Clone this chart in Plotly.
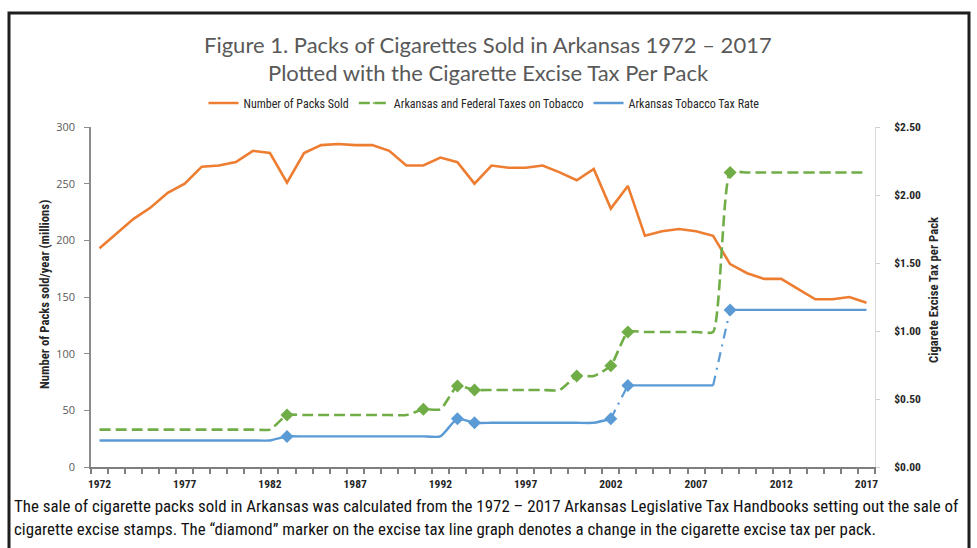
import plotly.graph_objects as go

# ---------------- data ----------------
years = [1972, 1973, 1974, 1975, 1976, 1977, 1978, 1979, 1980, 1981,
         1982, 1983, 1984, 1985, 1986, 1987, 1988, 1989, 1990, 1991,
         1992, 1993, 1994, 1995, 1996, 1997, 1998, 1999, 2000, 2001,
         2002, 2003, 2004, 2005, 2006, 2007, 2008, 2009, 2010, 2011,
         2012, 2013, 2014, 2015, 2016, 2017]

packs_sold = [193, 206, 219, 229, 242, 250, 265, 266, 269, 279,
              277, 251, 277, 284, 285, 284, 284, 279, 266, 266,
              273, 269, 250, 266, 264, 264, 266, 260, 253, 263,
              228, 248, 204, 208, 210, 208, 204, 179, 171, 166,
              166, 157, 148, 148, 150, 145]

ark_fed_tax = [0.275, 0.275, 0.275, 0.275, 0.275, 0.275, 0.275, 0.275, 0.275, 0.275,
               0.275, 0.382, 0.382, 0.382, 0.382, 0.382, 0.382, 0.382, 0.382, 0.424,
               0.424, 0.595, 0.566, 0.566, 0.566, 0.566, 0.566, 0.566, 0.669, 0.669,
               0.745, 0.993, 0.993, 0.993, 0.993, 0.993, 0.993, 2.165, 2.165, 2.165,
               2.165, 2.165, 2.165, 2.165, 2.165, 2.165]

ark_tax = [0.195, 0.195, 0.195, 0.195, 0.195, 0.195, 0.195, 0.195, 0.195, 0.195,
           0.195, 0.225, 0.225, 0.225, 0.225, 0.225, 0.225, 0.225, 0.225, 0.225,
           0.225, 0.355, 0.325, 0.325, 0.325, 0.325, 0.325, 0.325, 0.325, 0.325,
           0.355, 0.600, 0.600, 0.600, 0.600, 0.600, 0.600, 1.155, 1.155, 1.155,
           1.155, 1.155, 1.155, 1.155, 1.155, 1.155]

left_ticks = [0, 50, 100, 150, 200, 250, 300]
right_ticks = [0, 0.5, 1.0, 1.5, 2.0, 2.5]
x_label_years = [1972, 1977, 1982, 1987, 1992, 1997, 2002, 2007, 2012, 2017]

title_lines = ["Figure 1. Packs of Cigarettes Sold in Arkansas 1972 \u2013 2017",
               "Plotted with the Cigarette Excise Tax Per Pack"]
caption_lines = [
    "The sale of cigarette packs sold in Arkansas was calculated from the 1972 \u2013 2017 Arkansas Legislative Tax Handbooks setting out the sale of",
    "cigarette excise stamps. The \u201cdiamond\u201d marker on the excise tax line graph denotes a change in the cigarette excise tax per pack."]

# ---------------- styling ----------------
ORANGE = "#ED7D31"
GREEN = "#70AD47"
BLUE = "#5B9BD5"
GRAY_TXT = "#595959"
DARK_TXT = "#262626"
NARROW = "Liberation Sans Narrow, Roboto Condensed, Arial Narrow, sans-serif"
TITLE_FONT = "Lato, Open Sans, sans-serif"

# plot area in pixels
W, H = 977, 548
L, R, T, B = 91, 875, 127, 467


def px_x(p):
    return (p - L) / (R - L)


def px_y(p):
    return (B - p) / (B - T)


def change_sizes(vals, size):
    out = []
    for i, v in enumerate(vals):
        out.append(size if i > 0 and v != vals[i - 1] else 0)
    return out


fig = go.Figure()

# Packs sold
fig.add_trace(go.Scatter(
    x=years, y=packs_sold, mode="lines", name="Number of Packs Sold",
    line=dict(color=ORANGE, width=2.6), yaxis="y", showlegend=True))

# Arkansas and federal taxes
fig.add_trace(go.Scatter(
    x=years, y=ark_fed_tax, mode="lines+markers",
    name="Arkansas and Federal Taxes on Tobacco",
    line=dict(color=GREEN, width=2.6, dash="11px,5px", shape="spline", smoothing=0.5),
    marker=dict(symbol="diamond", size=change_sizes(ark_fed_tax, 10), color=GREEN,
                opacity=1, line=dict(width=0)),
    yaxis="y2"))

# Arkansas tax rate: solid pieces + dash-dot jumps
i02 = years.index(2002)
i03 = years.index(2003)
i08 = years.index(2008)
i09 = years.index(2009)
sizes_blue = change_sizes(ark_tax, 10)
pieces = [(0, i02 + 1), (i03, i08 + 1), (i09, len(years))]
for k, (a, b) in enumerate(pieces):
    fig.add_trace(go.Scatter(
        x=years[a:b], y=ark_tax[a:b], mode="lines+markers",
        name="Arkansas Tobacco Tax Rate", legendgroup="blue",
        showlegend=(k == 0),
        line=dict(color=BLUE, width=2.4, shape="spline", smoothing=0.5),
        marker=dict(symbol="diamond", size=sizes_blue[a:b], color=BLUE, opacity=1,
                    line=dict(width=0)),
        yaxis="y2"))
for (a, b) in [(i02, i03 + 1), (i08, i09 + 1)]:
    fig.add_trace(go.Scatter(
        x=years[a:b], y=ark_tax[a:b], mode="lines", legendgroup="blue",
        showlegend=False, line=dict(color=BLUE, width=2.2, dash="10px,6px,2px,6px"),
        yaxis="y2"))

shapes = [dict(type="rect", xref="paper", yref="paper",
               x0=px_x(9), x1=px_x(969), y0=px_y(13), y1=px_y(560),
               line=dict(color="#1e1e1e", width=3), fillcolor="rgba(0,0,0,0)",
               layer="above")]

annotations = []
for i, t in enumerate(title_lines):
    annotations.append(dict(text=t, xref="paper", yref="paper",
                            x=px_x(488), y=px_y(45 + 28 * i), xanchor="center",
                            yanchor="middle", showarrow=False,
                            font=dict(family=TITLE_FONT, size=22, color=GRAY_TXT)))
for i, t in enumerate(caption_lines):
    annotations.append(dict(text=t, xref="paper", yref="paper",
                            x=px_x(12), y=px_y(506 + 23 * i), xanchor="left",
                            yanchor="middle", showarrow=False,
                            font=dict(family=NARROW, size=16.9, color="#111111")))
annotations.append(dict(text="<b>Number of Packs sold/year (millions)</b>", xref="paper",
                        yref="paper", x=px_x(44), y=px_y(295), textangle=-90,
                        xanchor="center", yanchor="middle", showarrow=False,
                        font=dict(family=NARROW, size=12.7, color=DARK_TXT)))
annotations.append(dict(text="<b>Cigarete Excise Tax per Pack</b>", xref="paper",
                        yref="paper", x=px_x(933), y=px_y(290), textangle=-90,
                        xanchor="center", yanchor="middle", showarrow=False,
                        font=dict(family=NARROW, size=12.7, color=DARK_TXT)))

fig.update_layout(
    width=W, height=H,
    margin=dict(l=L, r=W - R, t=T, b=H - B, pad=0),
    paper_bgcolor="white", plot_bgcolor="white",
    showlegend=True,
    legend=dict(orientation="h", x=px_x(484), y=px_y(103), xanchor="center",
                yanchor="middle", bgcolor="rgba(0,0,0,0)",
                font=dict(family=NARROW, size=12, color=DARK_TXT),
                itemwidth=30, tracegroupgap=0),
    xaxis=dict(range=[1971.5, 2017.5], tickvals=x_label_years,
               ticktext=["<b>%d</b>" % y for y in x_label_years],
               ticks="", showgrid=False, zeroline=False, ticklabelstandoff=5,
               showline=True, linecolor="#7f7f7f", linewidth=1.5,
               tickfont=dict(family=NARROW, size=11.5, color=DARK_TXT),
               minor=dict(ticks="outside", tick0=1971.5, dtick=1, ticklen=5,
                          tickcolor="#7f7f7f", tickwidth=1.5, showgrid=False)),
    yaxis=dict(range=[0, 300], tickvals=left_ticks, ticks="outside", ticklen=5,
               tickcolor="#8c8c8c", showgrid=False, zeroline=False, showline=True,
               linecolor="#8c8c8c", linewidth=1.5, ticklabelstandoff=7,
               tickfont=dict(family="Open Sans, sans-serif", size=11, color=GRAY_TXT)),
    yaxis2=dict(range=[0, 2.5], tickvals=right_ticks,
                ticktext=["<b>$%.2f</b>" % v for v in right_ticks],
                overlaying="y", side="right", ticks="outside", ticklen=4,
                tickcolor="#d0d0d0", showgrid=False, zeroline=False, showline=True,
                linecolor="#d9d9d9", linewidth=1, ticklabelstandoff=12,
                tickfont=dict(family=NARROW, size=11.5, color=DARK_TXT)),
    shapes=shapes, annotations=annotations,
)

fig.write_html("out.html")
